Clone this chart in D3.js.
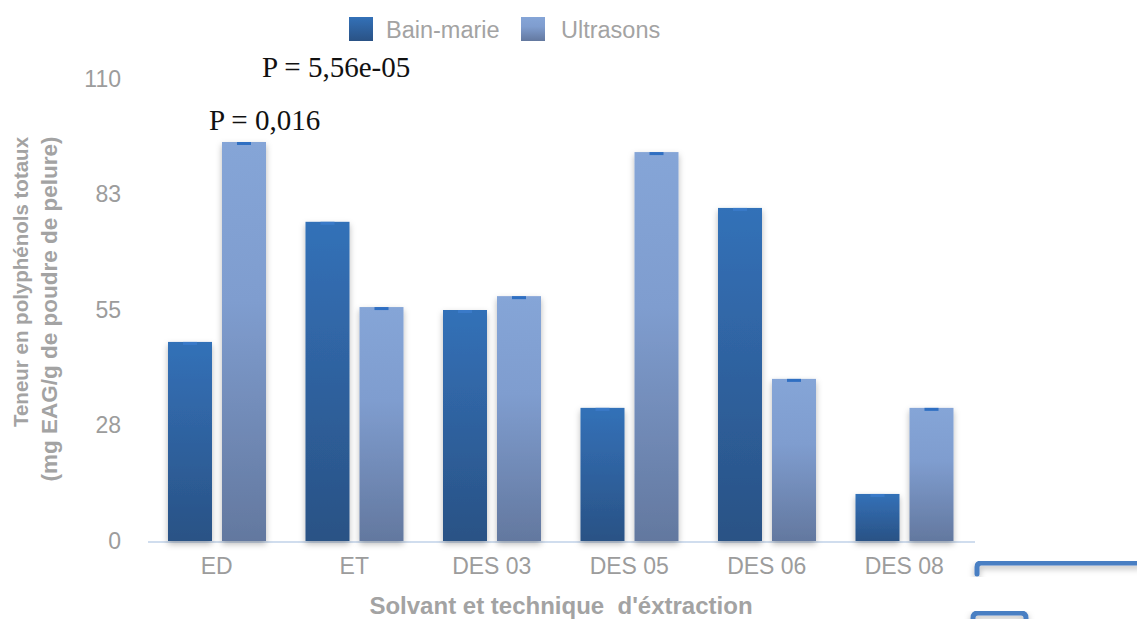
<!DOCTYPE html>
<html lang="fr">
    <head>
        <meta charset="utf-8">
        <title>Polyphénols totaux</title>
        <script src="https://d3js.org/d3.v7.min.js"></script>
        <style type="text/css">
          body
          {
              margin: 0;
              background: #ffffff;
          }
          svg
          {
              display: block;
          }
        </style>
    </head>
    <body>
        <script type="text/javascript">
            // data
            var categories = ["ED", "ET", "DES 03", "DES 05", "DES 06", "DES 08"];
            var series = ["Bain-marie", "Ultrasons"];
            var bainMarie = [47.4, 76.0, 55.0, 31.7, 79.3, 11.2];
            var ultrasons = [95.0, 55.7, 58.3, 92.6, 38.6, 31.7];
            var yTicks = [0, 27.5, 55, 82.5, 110];
            var yTickLabels = ["0", "28", "55", "83", "110"];
            var pLabels = ["P = 5,56e-05", "P = 0,016"];

            var w = 1137;
            var h = 619;

            var svg = d3.select("body")
                        .append("svg")
                        .attr("width", w)
                        .attr("height", h);

            var defs = svg.append("defs");

            // gradients of the bars
            var gradBM = defs.append("linearGradient")
                             .attr("id", "gradBM")
                             .attr("x1", 0).attr("y1", 0).attr("x2", 0).attr("y2", 1);
            gradBM.append("stop").attr("offset", "0%").attr("stop-color", "#3371b8");
            gradBM.append("stop").attr("offset", "100%").attr("stop-color", "#2a5285");

            var gradUS = defs.append("linearGradient")
                             .attr("id", "gradUS")
                             .attr("x1", 0).attr("y1", 0).attr("x2", 0).attr("y2", 1);
            gradUS.append("stop").attr("offset", "0%").attr("stop-color", "#85a5d7");
            gradUS.append("stop").attr("offset", "40%").attr("stop-color", "#7f9dcf");
            gradUS.append("stop").attr("offset", "100%").attr("stop-color", "#63789f");

            // soft shadow around the bars
            var shadow = defs.append("filter")
                             .attr("id", "shadow")
                             .attr("x", "-30%").attr("y", "-10%")
                             .attr("width", "160%").attr("height", "130%");
            shadow.append("feDropShadow")
                  .attr("dx", 0).attr("dy", 3)
                  .attr("stdDeviation", 3)
                  .attr("flood-color", "#000000")
                  .attr("flood-opacity", 0.28);

            var sans = "Liberation Sans, Arial, sans-serif";
            var grey = "#a3a3a3";

            // scales
            var xScale = d3.scaleBand().domain(categories).range([148, 973]);
            var xInner = d3.scaleBand().domain(series).range([20, 118]).paddingInner(10 / 54);
            var yScale = d3.scaleLinear().domain([0, 110]).range([541, 79]);

            // y tick labels
            var yAxis = d3.axisLeft(yScale)
                          .tickValues(yTicks)
                          .tickSize(0)
                          .tickPadding(0)
                          .tickFormat(function(d, i) { return yTickLabels[i]; });

            svg.append("g")
               .attr("transform", "translate(121, 0)")
               .call(yAxis)
               .call(function(g) { g.select(".domain").remove(); })
               .selectAll("text")
               .attr("fill", "#9c9c9c")
               .style("font-family", sans)
               .style("font-size", "23px");

            // baseline
            svg.append("line")
               .attr("x1", 148)
               .attr("x2", 975)
               .attr("y1", yScale(0) + 1)
               .attr("y2", yScale(0) + 1)
               .attr("stroke", "#d0ddee")
               .attr("stroke-width", 2);

            // x tick labels
            var xAxis = d3.axisBottom(xScale).tickSize(0).tickPadding(0);

            svg.append("g")
               .attr("transform", "translate(0, 558)")
               .call(xAxis)
               .call(function(g) { g.select(".domain").remove(); })
               .selectAll("text")
               .attr("fill", "#9c9c9c")
               .style("font-family", sans)
               .style("font-size", "23px");

            // bars
            var groups = svg.selectAll("g.cat")
                            .data(categories)
                            .enter()
                            .append("g")
                            .attr("class", "cat")
                            .attr("transform", function(d) { return "translate(" + xScale(d) + ",0)"; });

            var rows = function(d, i)
            {
                return [
                    {s: "Bain-marie", v: bainMarie[i], fill: "url(#gradBM)", cap: "#3a7ac8"},
                    {s: "Ultrasons", v: ultrasons[i], fill: "url(#gradUS)", cap: "#2f6fc2"}
                ];
            };

            groups.selectAll("rect.bar")
                  .data(rows)
                  .enter()
                  .append("rect")
                  .attr("class", "bar")
                  .attr("x", function(d) { return xInner(d.s); })
                  .attr("y", function(d) { return yScale(d.v); })
                  .attr("width", xInner.bandwidth())
                  .attr("height", function(d) { return yScale(0) - yScale(d.v); })
                  .attr("fill", function(d) { return d.fill; })
                  .attr("filter", "url(#shadow)");

            // small error caps on the bars
            groups.selectAll("rect.cap")
                  .data(rows)
                  .enter()
                  .append("rect")
                  .attr("class", "cap")
                  .attr("x", function(d) { return xInner(d.s) + xInner.bandwidth() / 2 - 7; })
                  .attr("y", function(d) { return yScale(d.v); })
                  .attr("width", 14)
                  .attr("height", 3)
                  .attr("fill", function(d) { return d.cap; });

            // legend
            var legendX = [349, 521];
            var legendTextX = [386, 561];
            var legendFill = ["url(#gradBM)", "url(#gradUS)"];
            var legend = svg.selectAll("g.legend")
                            .data(series)
                            .enter()
                            .append("g")
                            .attr("class", "legend");
            legend.append("rect")
                  .attr("x", function(d, i) { return legendX[i]; })
                  .attr("y", 17)
                  .attr("width", 24)
                  .attr("height", 24)
                  .attr("fill", function(d, i) { return legendFill[i]; });
            legend.append("text")
                  .attr("x", function(d, i) { return legendTextX[i]; })
                  .attr("y", 38)
                  .attr("fill", grey)
                  .style("font-family", sans)
                  .style("font-size", "23.5px")
                  .text(function(d) { return d; });

            // P values
            svg.append("text")
               .attr("x", 262)
               .attr("y", 77)
               .attr("fill", "#111111")
               .style("font-family", "Liberation Serif, Times New Roman, serif")
               .style("font-size", "29px")
               .text(pLabels[0]);
            svg.append("text")
               .attr("x", 209)
               .attr("y", 130)
               .attr("fill", "#111111")
               .style("font-family", "Liberation Serif, Times New Roman, serif")
               .style("font-size", "29px")
               .text(pLabels[1]);

            // y axis title
            svg.append("text")
               .attr("transform", "translate(28, 282) rotate(-90)")
               .attr("text-anchor", "middle")
               .attr("fill", grey)
               .style("font-family", sans)
               .style("font-weight", "bold")
               .style("font-size", "20.5px")
               .text("Teneur en polyphénols totaux");
            svg.append("text")
               .attr("transform", "translate(57, 309) rotate(-90)")
               .attr("text-anchor", "middle")
               .attr("fill", grey)
               .style("font-family", sans)
               .style("font-weight", "bold")
               .style("font-size", "22.5px")
               .text("(mg EAG/g de poudre de pelure)");

            // x axis title
            svg.append("text")
               .attr("x", 561)
               .attr("y", 614)
               .attr("text-anchor", "middle")
               .attr("fill", grey)
               .style("font-family", sans)
               .style("font-weight", "bold")
               .style("font-size", "24px")
               .style("white-space", "pre")
               .text("Solvant et technique  d'éxtraction");

            // clipped shapes in the lower right corner
            svg.append("path")
               .attr("d", "M977,574 L977,567 Q977,563 981,563 L1140,563")
               .attr("fill", "none")
               .attr("stroke", "#4a7fc3")
               .attr("stroke-width", 5)
               .attr("stroke-linecap", "round")
               .attr("filter", "url(#shadow)");
            svg.append("path")
               .attr("d", "M973,625 L973,618 Q973,613 978,613 L1021,613 Q1026,613 1026,618 L1026,625")
               .attr("fill", "none")
               .attr("stroke", "#4a7fc3")
               .attr("stroke-width", 5)
               .attr("filter", "url(#shadow)");
        </script>
    </body>
</html>
